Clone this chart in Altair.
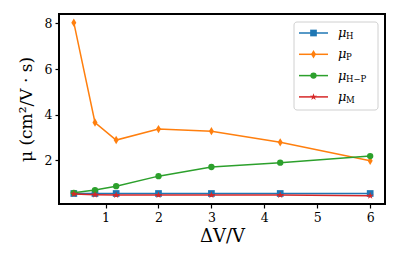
import altair as alt
import pandas as pd

x_vals = [0.4, 0.8, 1.2, 2, 3, 4.3, 6]
mu_H = [0.55, 0.55, 0.55, 0.55, 0.55, 0.55, 0.55]
mu_P = [8.03, 3.66, 2.89, 3.37, 3.28, 2.79, 1.98]
mu_HP = [0.58, 0.70, 0.87, 1.31, 1.71, 1.90, 2.19]
mu_M = [0.53, 0.50, 0.48, 0.48, 0.48, 0.48, 0.45]

series_keys = ["H", "P", "H\u2212P", "M"]
series_vals = [mu_H, mu_P, mu_HP, mu_M]
colors = ["#1f77b4", "#ff7f0e", "#2ca02c", "#d62728"]

STAR = "M0,-1L0.2245,-0.309L0.951,-0.309L0.363,0.118L0.588,0.809L0,0.382L-0.588,0.809L-0.363,0.118L-0.951,-0.309L-0.2245,-0.309Z"
THIN_DIAMOND = "M0,-1L0.6,0L0,1L-0.6,0Z"
shapes = ["square", THIN_DIAMOND, "circle", STAR]
sizes = [45, 70, 40, 55]

W, H = 326, 190
FONT = "DejaVu Serif"

xscale = alt.Scale(domain=[0.12, 6.28], nice=False, zero=False)
yscale = alt.Scale(domain=[0.09, 8.41], nice=False, zero=False)
xaxis = alt.Axis(values=[1, 2, 3, 4, 5, 6], title="\u0394V/V")
yaxis = alt.Axis(values=[2, 4, 6, 8], title="\u03bc (cm\u00b2/V \u00b7 s)")

layers = []
for i, (key, vals) in enumerate(zip(series_keys, series_vals)):
    df = pd.DataFrame({"x": x_vals, "y": vals})
    base = alt.Chart(df).encode(
        x=alt.X("x:Q", scale=xscale, axis=xaxis),
        y=alt.Y("y:Q", scale=yscale, axis=yaxis),
    )
    line = base.mark_line(color=colors[i], strokeWidth=1.5)
    pts = base.mark_point(shape=shapes[i], filled=True, opacity=1, color=colors[i],
                          size=sizes[i])
    layers += [line, pts]

# legend
box = alt.Chart(pd.DataFrame({"a": [0]})).mark_rect(
    fill="white", stroke="#cccccc", strokeWidth=1, cornerRadius=3, opacity=0.9
).encode(x=alt.value(235), x2=alt.value(319), y=alt.value(8), y2=alt.value(96))
layers.append(box)
for i, key in enumerate(series_keys):
    yy = 19 + 21.3 * i
    d = pd.DataFrame({"k": [key]})
    c = alt.Chart(d)
    layers.append(c.mark_rule(color=colors[i], strokeWidth=1.5).encode(
        x=alt.value(240), x2=alt.value(269), y=alt.value(yy)))
    layers.append(c.mark_point(shape=shapes[i], filled=True, opacity=1, color=colors[i],
                               size=sizes[i]).encode(x=alt.value(254.5), y=alt.value(yy)))
    layers.append(c.mark_text(text="\u03bc", font=FONT, fontStyle="italic", fontSize=13,
                              align="left", baseline="middle", color="black").encode(
        x=alt.value(279), y=alt.value(yy)))
    layers.append(c.mark_text(font=FONT, fontSize=8.5, align="left", baseline="middle",
                              color="black").encode(
        text="k:N", x=alt.value(287), y=alt.value(yy + 3)))

chart = alt.layer(*layers).properties(
    width=W, height=H, padding={"left": 9, "top": 6, "right": 5, "bottom": 5}
).configure_view(
    stroke="black", strokeWidth=2
).configure_axis(
    grid=False, domain=False, tickColor="black", tickSize=4, tickWidth=1.2,
    labelFont=FONT, labelFontSize=12.5, labelColor="black", labelPadding=3,
    titleFont=FONT, titleFontWeight="normal", titleColor="black",
).configure_axisX(titlePadding=4, titleFontSize=18).configure_axisY(titlePadding=9, titleFontSize=17)

chart.save("out.html", embed_options={"renderer": "svg", "actions": False})
